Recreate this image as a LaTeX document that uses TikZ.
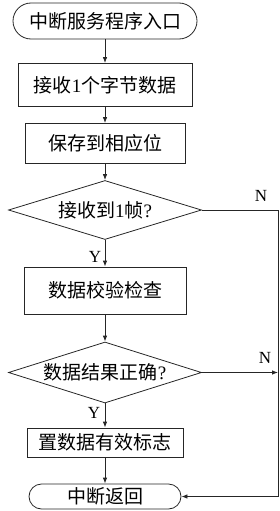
\documentclass[tikz,border=0pt]{standalone}
\usepackage{fontspec}
\setmainfont{Liberation Serif}
\newfontfamily\cjk{Noto Sans CJK SC}
\usetikzlibrary{shapes.geometric,arrows.meta}
\begin{document}
\begin{tikzpicture}[x=1pt,y=-1pt,
  every node/.style={font=\fontsize{19}{22}\selectfont},
  base/.style={draw=black!85,line width=0.8pt,inner sep=0pt,anchor=center},
  termbox/.style={base,rectangle,rounded corners=#1},
  procbox/.style={base,rectangle},
  decbox/.style={base,diamond},
  flow/.style={draw=black!85,line width=0.8pt,-{Latex[length=6pt,width=4.5pt]}},
  yn/.style={font=\fontsize{17}{20}\selectfont,inner sep=0pt}]
\useasboundingbox (0,0) rectangle (280,511);
\node[termbox=18pt,minimum width=184pt,minimum height=36pt] (start) at (105,21) {\cjk 中断服务程序入口};
\node[procbox,minimum width=174pt,minimum height=43pt] (b1) at (105,85) {{\cjk 接收}1{\cjk 个字节数据}};
\node[procbox,minimum width=160pt,minimum height=40pt] (b2) at (105,143.5) {\cjk 保存到相应位};
\node[decbox,minimum width=193pt,minimum height=59pt] (d1) at (105,210) {};
\node (t1) at (d1.center) {{\cjk 接收到}1{\cjk 帧}?};
\node[procbox,minimum width=162pt,minimum height=47pt] (b3) at (105,290.5) {\cjk 数据校验检查};
\node[decbox,minimum width=193pt,minimum height=61pt] (d2) at (105,372.5) {};
\node (t2) at (d2.center) {{\cjk 数据结果正确}?};
\node[procbox,minimum width=156pt,minimum height=29pt] (b4) at (105,442.5) {\cjk 置数据有效标志};
\node[termbox=12.5pt,minimum width=152pt,minimum height=25pt] (end) at (105,496.5) {\cjk 中断返回};
\coordinate (r1) at (278,210);
\coordinate (r2) at (278,496.5);
\coordinate (r3) at (278,372.5);
\draw[flow] (start) -- (b1);
\draw[flow] (b1) -- (b2);
\draw[flow] (b2) -- (d1);
\draw[flow] (d1) -- (b3);
\draw[flow] (b3) -- (d2);
\draw[flow] (d2) -- (b4);
\draw[flow] (b4) -- (end);
\draw[flow] (d1.east) -- (r1) -- (r2) -- (end.east);
\draw[flow] (d2.east) -- (r3);
\node[yn] (n1) at (261,196) {N};
\node[yn] (n2) at (265,358) {N};
\node[yn] (y1) at (95,257) {Y};
\node[yn] (y2) at (94,413) {Y};
\end{tikzpicture}
\end{document}
